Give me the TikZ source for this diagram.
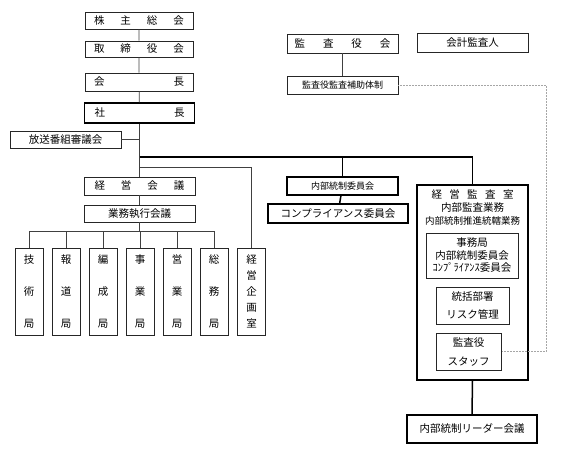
\documentclass[tikz,border=0pt]{standalone}
\usepackage{fontspec}
\setmainfont{Noto Sans CJK JP}
\newcommand{\spreadtext}[2]{\makebox[#1]{#2}}

\tikzset{
  box/.style={draw=black!85, line width=0.7pt, inner sep=0pt, minimum width=111pt, minimum height=18pt, font=\fontsize{10.5}{12}\selectfont},
  boldbox/.style={box, draw=black, line width=1.5pt},
  smalltext/.style={font=\fontsize{9}{11}\selectfont},
  link/.style={draw=black!75, line width=0.7pt},
  boldlink/.style={draw=black, line width=1.5pt},
  auxlink/.style={draw=black!35, line width=0.5pt, densely dotted},
}

\begin{document}
\begin{tikzpicture}[x=1pt, y=-1pt]
	\useasboundingbox (0,0) rectangle (581,448);

	% main chain
	\node[box, minimum width=108pt, minimum height=17pt] (kabunushi) at (139,20.5) {\spreadtext{90pt}{株\hfill 主\hfill 総\hfill 会}};
	\node[box, minimum width=108pt, minimum height=16pt] (torishimari) at (139,49) {\spreadtext{90pt}{取\hfill 締\hfill 役\hfill 会}};
	\node[box, minimum width=108pt] (kaicho) at (139,82) {\spreadtext{90pt}{会\hfill 長}};
	\node[boldbox, minimum width=110pt, minimum height=20pt] (shacho) at (139.5,113) {\spreadtext{90pt}{社\hfill 長}};
	\node[box, minimum height=17pt] (hoso) at (65.5,139.5) {放送番組審議会};
	\node[box] (keiei) at (139.5,186) {\spreadtext{90pt}{経\hfill 営\hfill 会\hfill 議}};
	\node[box, minimum height=17pt] (gyomu) at (139.5,213.5) {業務執行会議};

	% bureaus
	\foreach \txt [count=\i from 0] in {{技\\術\\局}, {報\\道\\局}, {編\\成\\局}, {事\\業\\局}, {営\\業\\局}, {総\\務\\局}}
		\node[box, minimum width=28pt, minimum height=87pt, align=center, font=\fontsize{10.5}{32}\selectfont] (kyoku\i) at (29+37*\i,291.5) {\txt};
	\node[box, minimum width=28pt, minimum height=87pt, align=center, font=\fontsize{10.5}{16}\selectfont] (kikaku) at (251.5,291.5) {経\\営\\企\\画\\室};

	% auditors
	\node[box, minimum height=19pt] (kansayaku) at (342.5,43.5) {\spreadtext{96pt}{監\hfill 査\hfill 役\hfill 会}};
	\node[box, minimum height=19pt] (kaikei) at (472.5,42.5) {会計監査人};
	\node[box, smalltext] (hojo) at (342.5,85) {監査役監査補助体制};

	% internal control
	\node[boldbox, smalltext] (naibu) at (342.5,186) {内部統制委員会};
	\node[boldbox, minimum width=140pt, minimum height=19pt] (compliance) at (338,213.5) {コンプライアンス委員会};

	\node[boldbox, minimum height=195pt] (kansashitsu) at (472.5,282.5) {};
	\node[anchor=north, inner sep=0pt, align=center, font=\fontsize{10.5}{13}\selectfont] (kansahead) at (472.5,189.5) {\spreadtext{82pt}{経\hfill 営\hfill 監\hfill 査\hfill 室}\\内部監査業務\\{\fontsize{9.5}{13}\selectfont 内部統制推進統轄業務}};
	\node[box, minimum width=92pt, minimum height=45pt, align=center, font=\fontsize{10.5}{12.5}\selectfont] (jimukyoku) at (472,255.5) {事務局\\内部統制委員会\\ｺﾝﾌﾟﾗｲｱﾝｽ委員会};
	\node[box, minimum width=73pt, minimum height=37pt, align=center, font=\fontsize{10.5}{18}\selectfont] (tokatsu) at (472.5,305.5) {統括部署\\リスク管理};
	\node[box, minimum width=65pt, minimum height=37pt, align=center, font=\fontsize{10.5}{19}\selectfont] (staff) at (468.5,351.5) {監査役\\スタッフ};
	\node[boldbox, minimum width=130pt, minimum height=28pt] (leader) at (472,429) {内部統制リーダー会議};

	% connectors
	\draw[link] (kabunushi) -- (torishimari) -- (kaicho) -- (shacho);
	\draw[link] (shacho.south) -- (keiei.north);
	\draw[link] (hoso.east) -- (hoso.east -| shacho.south);
	\draw[link] (keiei) -- (gyomu);

	\coordinate (trunk) at (139.5,157);
	\coordinate (branch) at (139.5,167);
	\coordinate (bar) at (139.5,231);
	\draw[boldlink] (trunk) -- (trunk -| kansashitsu.north) -- (kansashitsu.north);
	\draw[boldlink] (trunk -| naibu.north) -- (naibu.north);
	\draw[boldlink] (naibu) -- (compliance);
	\draw[boldlink] (kansashitsu.south) -- (leader.north);
	\draw[link] (branch) -| (kikaku.north);

	\draw[link] (gyomu.south) -- (gyomu.south |- bar);
	\draw[link] (kyoku0.north |- bar) -- (kyoku5.north |- bar);
	\foreach \i in {0,...,5}
		\draw[link] (kyoku\i.north |- bar) -- (kyoku\i.north);

	\draw[link] (kansayaku) -- (hojo);
	\coordinate (auxturn) at (546,85);
	\draw[auxlink] (hojo.east) -- (auxturn) |- (staff.east);
\end{tikzpicture}
\end{document}
